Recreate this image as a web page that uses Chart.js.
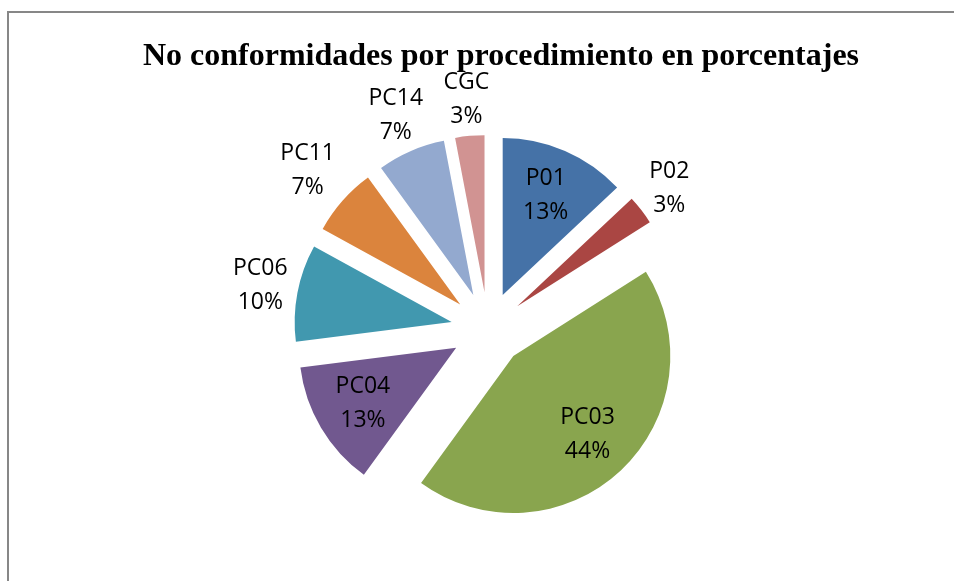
<!DOCTYPE html>
<html>
<head>
<meta charset="utf-8">
<script src="https://cdn.jsdelivr.net/npm/chart.js@4"></script>
<style>
  html, body { margin: 0; padding: 0; background: #fff; overflow: hidden; }
  #marco { position: absolute; left: 7px; top: 11px; width: 980px; height: 620px; border: 2px solid #878787; }
  #grafico { position: absolute; left: 0; top: 0; }
</style>
</head>
<body>
<div id="marco"></div>
<canvas id="grafico" width="954" height="581"></canvas>
<script>
var titulo = 'No conformidades por procedimiento en porcentajes';
var procedimientos = ['P01', 'P02', 'PC03', 'PC04', 'PC06', 'PC11', 'PC14', 'CGC'];
var porcentajes = [13, 3, 44, 13, 10, 7, 7, 3];
var colores = ['#4572A7', '#AA4643', '#89A54E', '#71588F', '#4198AF', '#DB843D', '#93A9CF', '#D19392'];

var fuenteEtiqueta = '23px "Open Sans"';
var separacion = 37;

// separa cada porcion del centro, como un pastel "explotado" de Excel
var pluginSeparar = {
	id: 'separar',
	afterDatasetUpdate: function(chart, args) {
		args.meta.data.forEach(function(arco) {
			var medio = (arco.startAngle + arco.endAngle) / 2;
			arco.x += Math.cos(medio) * separacion;
			arco.y += Math.sin(medio) * separacion;
		});
	}
};

var pluginEtiquetas = {
	id: 'etiquetas',
	afterDatasetsDraw: function(chart) {
		var ctx = chart.ctx;
		var meta = chart.getDatasetMeta(0);
		ctx.save();
		ctx.font = fuenteEtiqueta;
		ctx.fillStyle = '#000';
		ctx.textAlign = 'center';
		ctx.textBaseline = 'middle';
		meta.data.forEach(function(arco, i) {
			var valor = porcentajes[i];
			var lineas = [procedimientos[i], valor + '%'];
			var medio = (arco.startAngle + arco.endAngle) / 2;
			var cx = Math.cos(medio), sy = Math.sin(medio);
			var r = arco.outerRadius;
			var dist;
			if (valor >= 13) {
				dist = r * 0.69;
			} else {
				var ancho = Math.max(ctx.measureText(lineas[0]).width, ctx.measureText(lineas[1]).width) / 2;
				var alto = 26;
				var ex = Math.abs(cx) > 0.001 ? ancho / Math.abs(cx) : 1e9;
				var ey = Math.abs(sy) > 0.001 ? alto / Math.abs(sy) : 1e9;
				dist = r + 10 + Math.min(ex, ey);
			}
			var x = arco.x + cx * dist;
			var y = arco.y + sy * dist;
			ctx.fillText(lineas[0], x, y - 17);
			ctx.fillText(lineas[1], x, y + 17);
		});
		ctx.restore();
	}
};

var pluginTitulo = {
	id: 'tituloExcel',
	afterDraw: function(chart) {
		var ctx = chart.ctx;
		ctx.save();
		ctx.font = 'bold 32px "Liberation Serif"';
		ctx.fillStyle = '#000';
		ctx.textAlign = 'center';
		ctx.textBaseline = 'alphabetic';
		ctx.fillText(titulo, 501, 65);
		ctx.restore();
	}
};

var grafico = new Chart(document.getElementById('grafico').getContext('2d'), {
	type: 'pie',
	data: {
		labels: procedimientos,
		datasets: [{
			data: porcentajes,
			backgroundColor: colores,
			borderWidth: 0
		}]
	},
	options: {
		responsive: false,
		animation: false,
		layout: { padding: { top: 172, bottom: 95, left: 300, right: 278 } },
		plugins: {
			legend: { display: false },
			title: { display: false },
			tooltip: { enabled: false }
		},
		events: []
	},
	plugins: [pluginSeparar, pluginEtiquetas, pluginTitulo]
});
</script>
</body>
</html>
